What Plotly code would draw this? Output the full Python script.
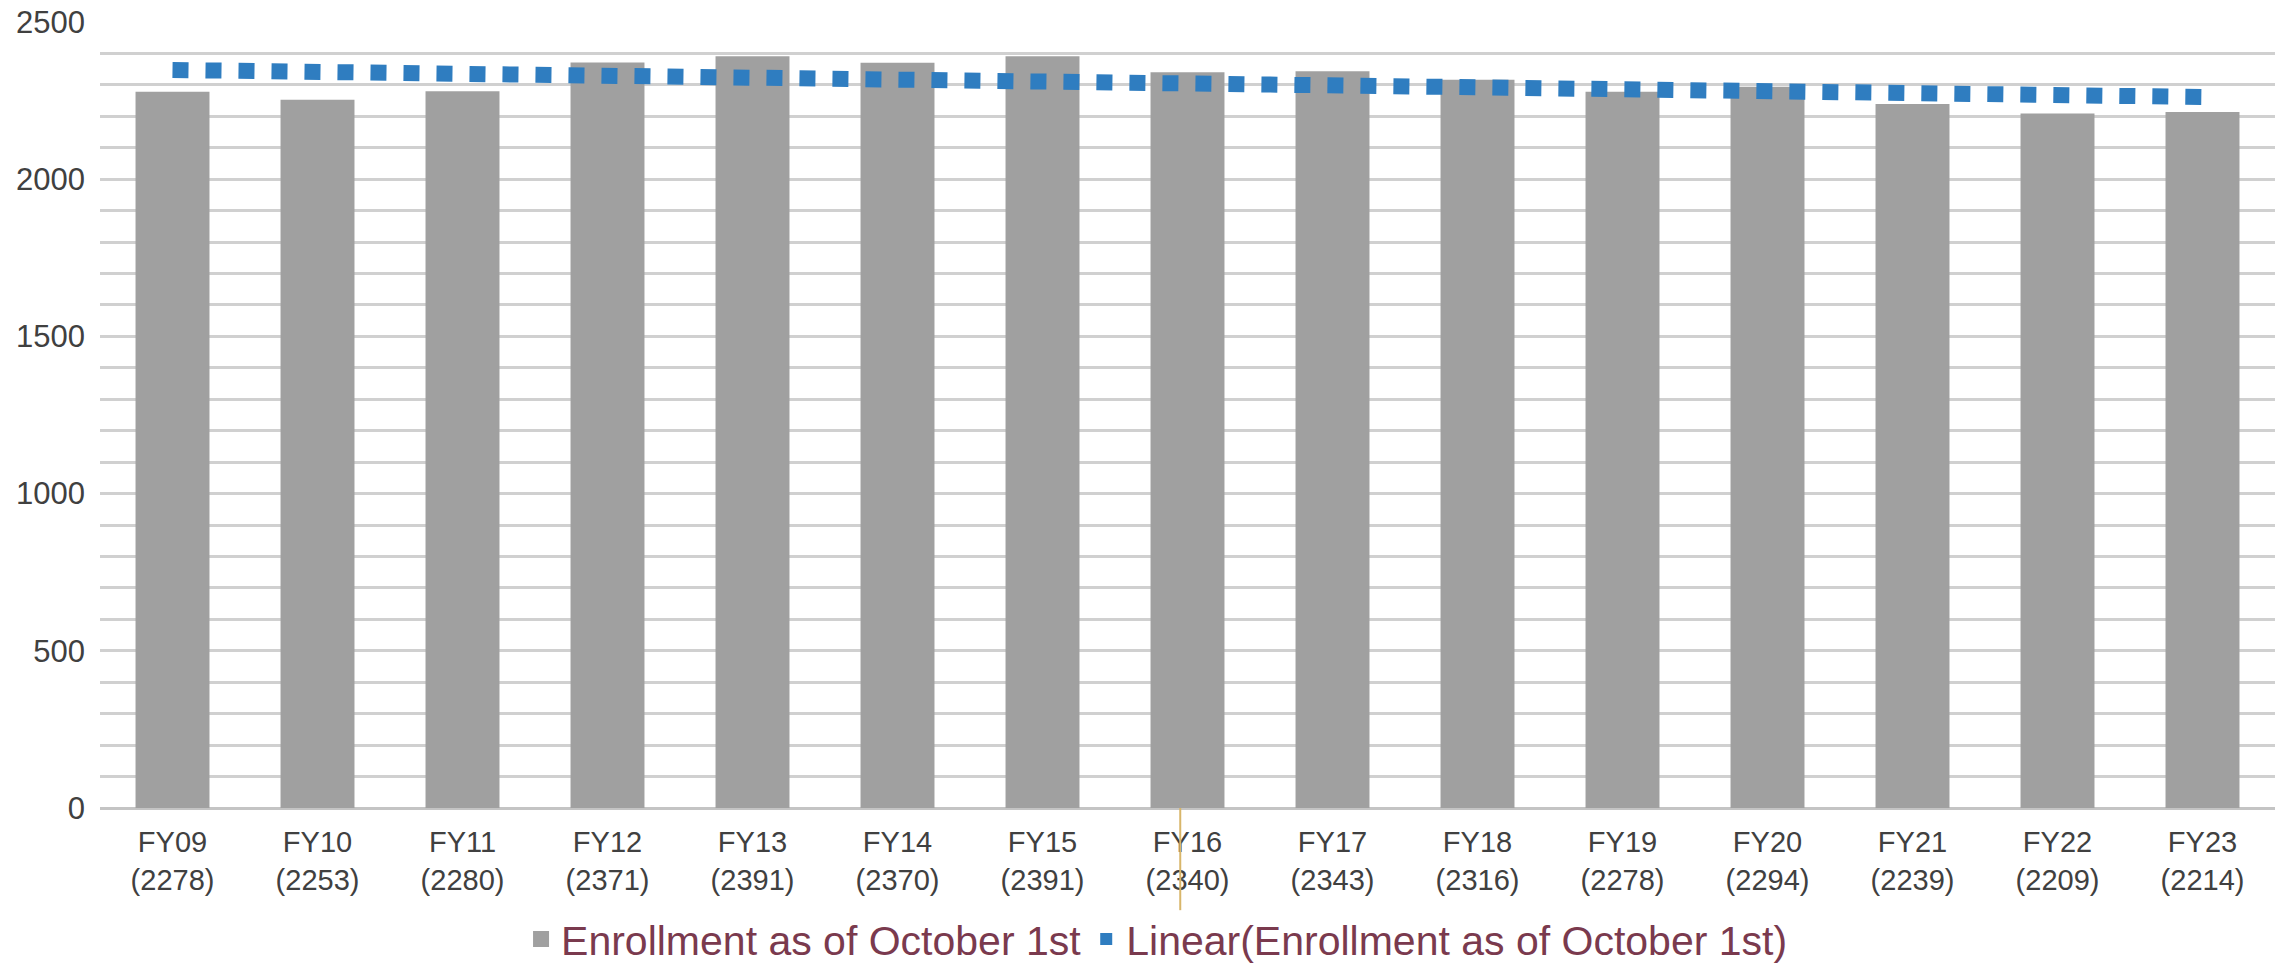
import numpy as np
import plotly.graph_objects as go

categories = ["FY09", "FY10", "FY11", "FY12", "FY13", "FY14", "FY15", "FY16",
              "FY17", "FY18", "FY19", "FY20", "FY21", "FY22", "FY23"]
enrollment = [2278, 2253, 2280, 2371, 2391, 2370, 2391, 2340,
              2343, 2316, 2278, 2294, 2239, 2209, 2214]
y_ticks = [0, 500, 1000, 1500, 2000, 2500]

bar_name = "Enrollment as of October 1st"
trend_name = "Linear(Enrollment as of October 1st)"

tick_text = [f"{c}<br>({v})" for c, v in zip(categories, enrollment)]

# Linear trendline (least squares), as Excel's "Linear" trendline
idx = np.arange(len(enrollment))
slope, intercept = np.polyfit(idx, enrollment, 1)
trend = slope * idx + intercept

FONT = "Liberation Sans, Arial, sans-serif"
BAR_COLOR = "#a0a0a0"
TREND_COLOR = "#2f7dc0"
LEGEND_TEXT = "#7a3a4e"

fig = go.Figure()
fig.add_trace(go.Bar(
    x=categories, y=enrollment, name=bar_name,
    marker=dict(color=BAR_COLOR, line=dict(width=0)),
    showlegend=False,
))
fig.add_trace(go.Scatter(
    x=categories, y=trend, mode="lines", name=trend_name,
    line=dict(color=TREND_COLOR, width=16, dash="16px,17px"),
    showlegend=False, hoverinfo="skip",
))
# legend-only entries (square swatches like the original)
fig.add_trace(go.Scatter(
    x=[None], y=[None], mode="markers", name=bar_name,
    marker=dict(color=BAR_COLOR, symbol="square", size=18),
))
fig.add_trace(go.Scatter(
    x=[None], y=[None], mode="markers", name=trend_name,
    marker=dict(color=TREND_COLOR, symbol="square", size=12),
))

fig.update_layout(
    width=2285, height=967,
    margin=dict(l=100, r=10, t=22, b=159, autoexpand=False),
    paper_bgcolor="white", plot_bgcolor="white",
    bargap=0.49,
    font=dict(family=FONT, size=28, color="#404040"),
    showlegend=True,
    legend=dict(
        orientation="h", x=0.486, xanchor="center", y=-0.167, yanchor="middle",
        font=dict(family=FONT, size=41, color=LEGEND_TEXT),
        itemwidth=30, tracegroupgap=0, bgcolor="rgba(0,0,0,0)",
    ),
    xaxis=dict(
        tickmode="array", tickvals=categories, ticktext=tick_text,
        tickfont=dict(family=FONT, size=29, color="#404040"),
        showgrid=False, showline=False, ticks="", ticklabelstandoff=14,
    ),
    yaxis=dict(
        range=[0, 2500], tickvals=y_ticks,
        tickfont=dict(family=FONT, size=31, color="#404040"),
        showgrid=True, gridcolor="#d0d0d0", gridwidth=3,
        minor=dict(dtick=100, showgrid=True, gridcolor="#d0d0d0", gridwidth=3),
        zeroline=True, zerolinecolor="#c4c4c4", zerolinewidth=3,
        showline=False, ticks="", ticklabelstandoff=14,
    ),
    shapes=[dict(type="line", xref="x", yref="paper", x0=6.95, x1=6.95,
                 y0=0, y1=-0.13, line=dict(color="#d8b66a", width=2))],
)

fig.write_html("out.html")
